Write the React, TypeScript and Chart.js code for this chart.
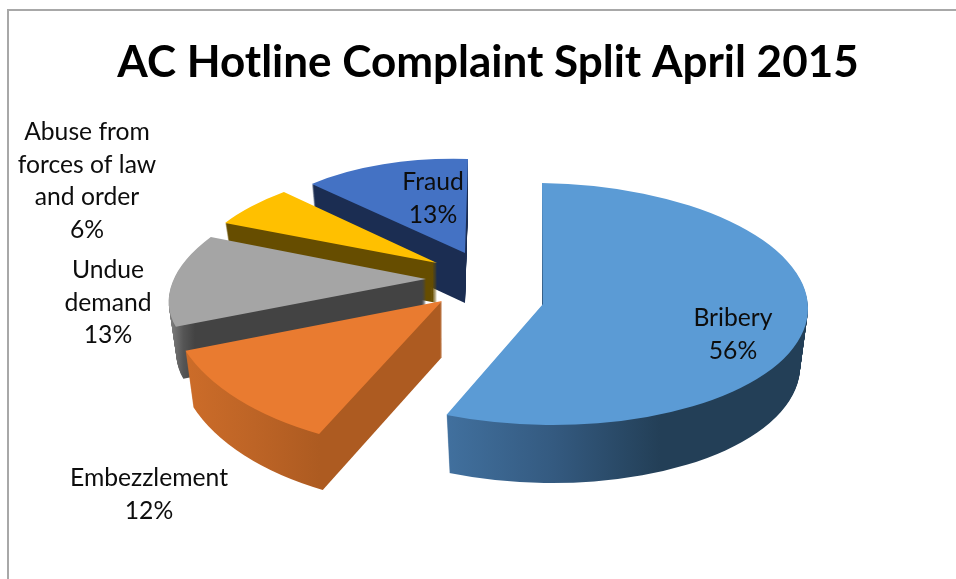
import React, { useEffect, useRef } from "react";
import { Chart, registerables } from "chart.js";

Chart.register(...registerables);

const TITLE = "AC Hotline Complaint Split April 2015";
const CATEGORIES = ["Bribery", "Embezzlement", "Undue demand", "Abuse from forces of law and order", "Fraud"];
const VALUES = [56, 12, 13, 6, 13];
const TOP_COLORS = ["#5b9bd5", "#e97b30", "#a5a5a5", "#ffc000", "#4472c4"];

// Layout: each slice's projection onto the screen (a 3D pie seen in perspective).
const PROJECTIONS = [
  { e: 543, f: 304, a: 265, b: 4, c: 1, d: 121 },
  { e: 442, f: 301, a: 272, b: 15, c: -24.5, d: 149 },
  { e: 426, f: 279, a: 252, b: 0.3, c: -52, d: 113 },
  { e: 437, f: 263, a: 241, b: 3.5, c: -33, d: 100 },
  { e: 465, f: 253, a: 213, b: 6.3, c: -3, d: 94 },
];
const WALL_DEPTHS = [58, 56, 52, 40, 50];
const WALL_SHRINK = 0.03;
const WALL_GRADIENTS = [
  { x0: 447, x1: 660, stops: ["#41709e", "#345a80", "#233f57"] },
  { x0: 187, x1: 320, stops: ["#cc6c29", "#bd6426", "#ad5b21"] },
  { x0: 172, x1: 195, stops: ["#7a7a7a", "#555555", "#434343"] },
  { x0: 225, x1: 440, stops: ["#664d00", "#664d00", "#664d00"] },
  { x0: 312, x1: 470, stops: ["#1b2d52", "#1b2d52", "#1b2d52"] },
];
const PAINT_ORDER = [4, 3, 2, 1, 0];

const LABEL_LINES = [["Bribery"], ["Embezzlement"], ["Undue", "demand"], ["Abuse from", "forces of law", "and order"], ["Fraud"]];
const LABEL_PLACES = [
  { x: 733, y: 318 },
  { x: 149, y: 478 },
  { x: 108, y: 270 },
  { x: 87, y: 132 },
  { x: 433, y: 182 },
];
const LABEL_LINE_HEIGHT = 32.6;

function project(ctx: CanvasRenderingContext2D, arc: any, i: number, depth: number, shrink: number) {
  const p = PROJECTIONS[i];
  const R = arc.outerRadius;
  ctx.translate(p.e, p.f + depth);
  ctx.scale(1 - shrink, 1);
  ctx.transform(p.a / R, p.b / R, p.c / R, p.d / R, 0, 0);
  ctx.translate(-arc.x, -arc.y);
}

const pie3d = {
  id: "pie3d",
  beforeDatasetsDraw(chart: any) {
    const ctx: CanvasRenderingContext2D = chart.ctx;
    const arcs = chart.getDatasetMeta(0).data;
    for (const i of PAINT_ORDER) {
      const arc = arcs[i];
      const g = WALL_GRADIENTS[i];
      const grad = ctx.createLinearGradient(g.x0, 0, g.x1, 0);
      g.stops.forEach((s, k) => grad.addColorStop(k / (g.stops.length - 1), s));
      const depth = WALL_DEPTHS[i];
      for (let step = depth; step >= 1; step--) {
        const t = step / depth;
        ctx.save();
        project(ctx, arc, i, step, WALL_SHRINK * t);
        ctx.beginPath();
        ctx.moveTo(arc.x, arc.y);
        ctx.arc(arc.x, arc.y, arc.outerRadius, arc.startAngle, arc.endAngle);
        ctx.closePath();
        ctx.restore();
        ctx.fillStyle = grad;
        ctx.fill();
      }
      ctx.save();
      project(ctx, arc, i, 0, 0);
      arc.draw(ctx, chart.chartArea);
      ctx.restore();
    }
    return false;
  },
  afterDraw(chart: any) {
    const ctx: CanvasRenderingContext2D = chart.ctx;
    ctx.save();
    ctx.font = "24.7px Lato";
    ctx.fillStyle = "#0d0d0d";
    ctx.textAlign = "center";
    ctx.textBaseline = "middle";
    CATEGORIES.forEach((_, i) => {
      const lines = [...LABEL_LINES[i], `${VALUES[i]}%`];
      lines.forEach((line, k) => {
        ctx.fillText(line, LABEL_PLACES[i].x, LABEL_PLACES[i].y + k * LABEL_LINE_HEIGHT);
      });
    });
    ctx.restore();
  },
};

export default function App() {
  const ref = useRef<HTMLCanvasElement>(null);
  useEffect(() => {
    const chart = new Chart(ref.current as HTMLCanvasElement, {
      type: "pie",
      data: {
        labels: CATEGORIES,
        datasets: [{ data: VALUES, backgroundColor: TOP_COLORS, borderWidth: 0 }],
      },
      options: {
        responsive: false,
        animation: false,
        devicePixelRatio: 1,
        layout: { padding: { left: 20 } },
        events: [],
        plugins: {
          legend: { display: false },
          tooltip: { enabled: false },
          title: {
            display: true,
            text: TITLE,
            color: "#000000",
            font: { family: "Lato", weight: "bold", size: 44 },
            padding: { top: 36, bottom: 10 },
          },
        },
      },
      plugins: [pie3d],
    } as any);
    return () => chart.destroy();
  }, []);
  return (
    <div style={{ position: "fixed", left: 0, top: 0, width: 956, height: 579, background: "#fff", overflow: "hidden" }}>
      <canvas ref={ref} width={956} height={579} style={{ display: "block" }} />
      <div
        style={{
          position: "absolute",
          left: 7,
          top: 9,
          width: 949,
          height: 570,
          borderLeft: "2px solid #a8a8a8",
          borderTop: "2px solid #a8a8a8",
          boxSizing: "border-box",
        }}
      />
    </div>
  );
}
